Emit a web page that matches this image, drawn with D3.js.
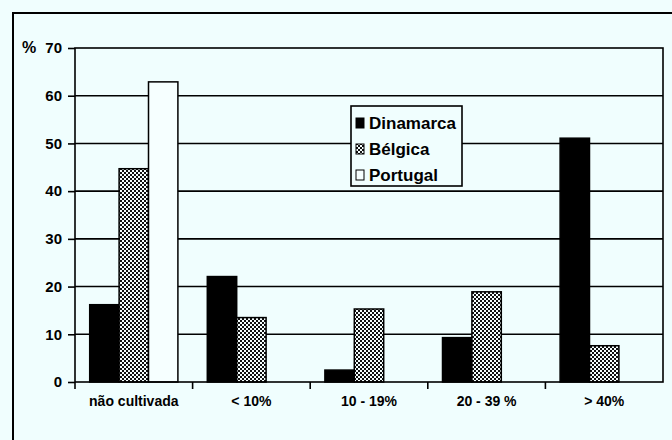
<!DOCTYPE html>
<html>
<head>
<meta charset="utf-8">
<script src="https://cdn.jsdelivr.net/npm/d3@7"></script>
<style>
    body { margin: 0; background: #f0fefe; }
    svg { display: block; font-family: "Liberation Sans", Arial, sans-serif; font-weight: bold; }
</style>
</head>
<body>
<script>
const categories = ['não cultivada', '< 10%', '10 - 19%', '20 - 39 %', '> 40%']
const seriesNames = ['Dinamarca', 'Bélgica', 'Portugal']
const dinamarca = [16.2, 22.1, 2.5, 9.3, 51.1]
const belgica = [44.7, 13.5, 15.3, 18.9, 7.6]
const portugal = [62.9, 0, 0, 0, 0]
const yTicks = [0, 10, 20, 30, 40, 50, 60, 70]

const w = 672
const h = 440
const plotL = 75, plotR = 663, plotT = 48, plotB = 382

const svg = d3.select('body')
    .append('svg')
    .attr('width', w)
    .attr('height', h)

// fine checker fill for Bélgica
const defs = svg.append('defs')
const pat = defs.append('pattern')
    .attr('id', 'checker')
    .attr('width', 4)
    .attr('height', 4)
    .attr('patternUnits', 'userSpaceOnUse')
pat.append('rect').attr('width', 4).attr('height', 4).attr('fill', '#f6ffff')
pat.append('rect').attr('width', 2).attr('height', 2).attr('fill', '#111')
pat.append('rect').attr('x', 2).attr('y', 2).attr('width', 2).attr('height', 2).attr('fill', '#111')

const fills = ['#000', 'url(#checker)', '#f6ffff']

// outer frame
svg.append('path')
    .attr('d', 'M13,440 V13 H672')
    .attr('fill', 'none')
    .attr('stroke', '#000')
    .attr('stroke-width', 2)

const xScale = d3.scaleBand()
    .domain(categories)
    .range([plotL, plotR])

const xInner = d3.scaleBand()
    .domain(seriesNames)
    .range([0, xScale.bandwidth()])
    .paddingInner(0)
    .paddingOuter(0.5)

const yScale = d3.scaleLinear()
    .domain([0, 70])
    .range([plotB, plotT])

// gridlines
svg.append('g')
    .selectAll('line')
    .data(yTicks.slice(1, -1))
    .enter()
    .append('line')
    .attr('x1', plotL)
    .attr('x2', plotR)
    .attr('y1', d => yScale(d))
    .attr('y2', d => yScale(d))
    .attr('stroke', '#000')
    .attr('stroke-width', 1.6)

const data = seriesNames.map((s, i) => ({
    name: s,
    fill: fills[i],
    values: [dinamarca, belgica, portugal][i]
}))

const groups = svg.selectAll('g.series')
    .data(data)
    .enter()
    .append('g')
    .attr('class', 'series')

groups.selectAll('rect')
    .data(d => d.values
        .map((v, j) => ({name: d.name, fill: d.fill, cat: categories[j], v: v}))
        .filter(o => o.v > 0))
    .enter()
    .append('rect')
    .attr('x', d => xScale(d.cat) + xInner(d.name))
    .attr('y', d => yScale(d.v))
    .attr('width', xInner.bandwidth())
    .attr('height', d => yScale(0) - yScale(d.v))
    .attr('fill', d => d.fill)
    .attr('stroke', '#000')
    .attr('stroke-width', 1.5)

// plot frame
svg.append('rect')
    .attr('x', plotL)
    .attr('y', plotT)
    .attr('width', plotR - plotL)
    .attr('height', plotB - plotT)
    .attr('fill', 'none')
    .attr('stroke', '#000')
    .attr('stroke-width', 1.6)

const yAxis = d3.axisLeft(yScale)
    .tickValues(yTicks)
    .tickSize(7)
    .tickPadding(6)

svg.append('g')
    .attr('transform', 'translate(' + plotL + ',0)')
    .call(yAxis)
    .call(g => g.select('.domain').remove())
    .call(g => g.selectAll('line').attr('stroke-width', 1.6))
    .call(g => g.selectAll('text').attr('font-size', 15).attr('font-family', 'Liberation Sans, Arial').attr('font-weight', 'bold'))

svg.append('text')
    .attr('x', 22)
    .attr('y', 53)
    .attr('font-size', 16)
    .text('%')

const xAxis = d3.axisBottom(xScale)
    .tickSize(0)
    .tickPadding(14)

svg.append('g')
    .attr('transform', 'translate(0,' + plotB + ')')
    .call(xAxis)
    .call(g => g.select('.domain').remove())
    .call(g => g.selectAll('text').attr('font-size', 14).attr('font-family', 'Liberation Sans, Arial').attr('font-weight', 'bold'))

// category boundary ticks
svg.append('g')
    .selectAll('line')
    .data(categories.slice(1))
    .enter()
    .append('line')
    .attr('x1', d => xScale(d))
    .attr('x2', d => xScale(d))
    .attr('y1', plotB)
    .attr('y2', plotB + 7)
    .attr('stroke', '#000')
    .attr('stroke-width', 1.6)
svg.append('line')
    .attr('x1', plotL).attr('x2', plotL)
    .attr('y1', plotB).attr('y2', plotB + 7)
    .attr('stroke', '#000').attr('stroke-width', 1.6)

// legend
const legend = svg.append('g')
    .attr('transform', 'translate(351,106)')

legend.append('rect')
    .attr('width', 111)
    .attr('height', 80)
    .attr('fill', '#f0fefe')
    .attr('stroke', '#000')
    .attr('stroke-width', 1.6)

const items = legend.selectAll('g.item')
    .data(data)
    .enter()
    .append('g')
    .attr('class', 'item')
    .attr('transform', (d, i) => 'translate(5,' + (23 + i * 26) + ')')

items.append('rect')
    .attr('x', 0)
    .attr('y', -11)
    .attr('width', 8)
    .attr('height', 10)
    .attr('fill', d => d.fill)
    .attr('stroke', '#000')
    .attr('stroke-width', 1)

items.append('text')
    .attr('x', 13)
    .attr('y', 0)
    .attr('font-size', 17)
    .text(d => d.name)
</script>
</body>
</html>
